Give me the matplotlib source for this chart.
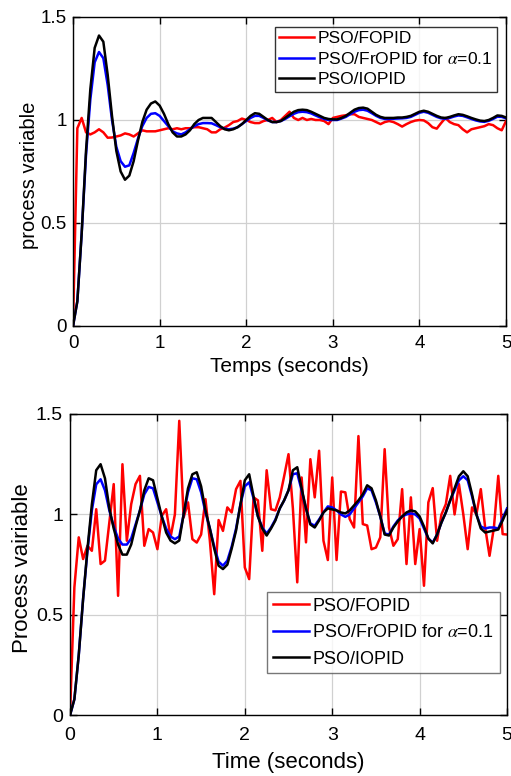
import numpy as np
import matplotlib
matplotlib.use("Agg")
import matplotlib.pyplot as plt

plt.rcParams['font.family'] = ['Liberation Sans', 'DejaVu Sans']
plt.rcParams['mathtext.fontset'] = 'stix'

# ---------------- data ----------------
t = np.round(np.arange(0, 5.0001, 0.05), 2)

labels = ["PSO/FOPID", r"PSO/FrOPID for $\alpha$=0.1", "PSO/IOPID"]
colors = ["#ff0000", "#0000ff", "#000000"]

# top chart
top_fopid = [0, 0.96, 1.01, 0.94, 0.93, 0.94, 0.955, 0.94, 0.914, 0.915,
             0.92, 0.925, 0.935, 0.93, 0.92, 0.935, 0.95, 0.945, 0.945, 0.945,
             0.95, 0.955, 0.96, 0.955, 0.96, 0.955, 0.96, 0.96, 0.965, 0.965,
             0.96, 0.955, 0.94, 0.94, 0.955, 0.963, 0.975, 0.99, 0.995, 1.007,
             1.0, 0.99, 0.985, 0.985, 0.995, 1.0, 1.01, 0.99, 1.0, 1.02,
             1.04, 1.01, 1.0, 1.01, 1.0, 1.005, 1.0, 1.0, 0.995, 0.98,
             1.01, 1.015, 1.02, 1.023, 1.028, 1.028, 1.015, 1.01, 1.005, 1.0,
             0.99, 0.98, 0.99, 0.995, 0.99, 0.98, 0.968, 0.98, 0.99, 0.997,
             1.0, 0.998, 0.985, 0.965, 0.958, 0.985, 1.01, 0.99, 0.98, 0.975,
             0.955, 0.94, 0.955, 0.96, 0.965, 0.97, 0.98, 0.975, 0.96, 0.95,
             0.995]
top_fropid = [0, 0.12, 0.45, 0.83, 1.1, 1.28, 1.33, 1.30, 1.17, 1.0,
              0.87, 0.8, 0.773, 0.78, 0.84, 0.91, 0.97, 1.01, 1.03, 1.033,
              1.02, 0.995, 0.97, 0.945, 0.935, 0.93, 0.94, 0.955, 0.97, 0.98,
              0.985, 0.985, 0.984, 0.975, 0.965, 0.958, 0.955, 0.958, 0.965, 0.98,
              0.995, 1.01, 1.02, 1.02, 1.01, 0.998, 0.99, 0.99, 0.995, 1.005,
              1.018, 1.03, 1.038, 1.04, 1.038, 1.032, 1.022, 1.013, 1.005, 1.0,
              1.0, 1.0, 1.007, 1.015, 1.028, 1.04, 1.048, 1.05, 1.045, 1.033,
              1.02, 1.01, 1.005, 1.005, 1.006, 1.007, 1.008, 1.01, 1.015, 1.025,
              1.035, 1.04, 1.035, 1.025, 1.015, 1.008, 1.006, 1.01, 1.017, 1.022,
              1.02, 1.013, 1.005, 0.998, 0.993, 0.991, 0.996, 1.005, 1.016, 1.015,
              1.008]
top_iopid = [0, 0.12, 0.45, 0.85, 1.15, 1.35, 1.41, 1.38, 1.22, 1.02,
             0.85, 0.75, 0.71, 0.73, 0.80, 0.90, 0.99, 1.05, 1.08, 1.09,
             1.07, 1.03, 0.98, 0.94, 0.92, 0.92, 0.93, 0.95, 0.98, 1.0,
             1.01, 1.01, 1.01, 0.99, 0.97, 0.955, 0.95, 0.955, 0.965, 0.98,
             1.0, 1.02, 1.033, 1.03, 1.015, 1.0, 0.99, 0.99, 0.995, 1.01,
             1.025, 1.04, 1.048, 1.05, 1.048, 1.04, 1.03, 1.02, 1.01, 1.005,
             1.003, 1.003, 1.01, 1.02, 1.035, 1.05, 1.058, 1.06, 1.055, 1.04,
             1.025, 1.015, 1.01, 1.01, 1.01, 1.012, 1.012, 1.015, 1.02, 1.03,
             1.04, 1.045, 1.04, 1.03, 1.02, 1.012, 1.01, 1.015, 1.022, 1.028,
             1.025, 1.018, 1.01, 1.003, 0.997, 0.995, 1.0, 1.01, 1.022, 1.02,
             1.012]

# bottom chart
bot_fopid = [0, 0.637, 0.886, 0.778, 0.844, 0.819, 1.026, 0.753, 0.77, 0.96,
             1.151, 0.595, 1.25, 0.869, 1.051, 1.151, 1.192, 0.844, 0.927, 0.91,
             0.827, 0.993, 1.026, 0.886, 1.0, 1.466, 0.985, 1.06, 0.877, 0.86,
             0.9, 1.076, 0.87, 0.603, 0.972, 0.918, 1.035, 1.01, 1.126, 1.167,
             0.736, 0.678, 1.085, 1.07, 0.819, 1.22, 1.026, 1.02, 1.085, 1.19,
             1.30, 1.03, 0.662, 1.184, 0.861, 1.275, 1.085, 1.317, 0.869, 0.773,
             1.184, 0.773, 1.114, 1.11, 0.977, 0.935, 1.39, 0.952, 0.945, 0.827,
             0.835, 0.886, 1.325, 0.935, 0.844, 0.877, 1.126, 0.753, 1.085, 0.753,
             0.927, 0.645, 1.06, 1.131, 0.869, 1.0, 1.051, 1.192, 1.0, 1.151,
             1.0, 0.827, 1.035, 1.0, 1.126, 0.935, 0.794, 0.935, 1.192, 0.902,
             0.90]
bot_fropid = [0, 0.08, 0.30, 0.58, 0.82, 1.02, 1.15, 1.175, 1.12, 1.02,
              0.94, 0.88, 0.85, 0.85, 0.88, 0.95, 1.02, 1.10, 1.137, 1.13,
              1.06, 0.99, 0.93, 0.89, 0.877, 0.89, 1.0, 1.11, 1.18, 1.175,
              1.11, 1.01, 0.93, 0.84, 0.765, 0.745, 0.77, 0.84, 0.93, 1.05,
              1.14, 1.16, 1.08, 0.99, 0.935, 0.905, 0.935, 0.975, 1.03, 1.07,
              1.12, 1.20, 1.205, 1.12, 1.03, 0.955, 0.944, 0.975, 1.01, 1.04,
              1.035, 1.02, 1.0, 0.988, 1.0, 1.03, 1.06, 1.09, 1.13, 1.12,
              1.06, 0.99, 0.905, 0.9, 0.94, 0.97, 0.99, 1.0, 1.005, 1.0,
              0.98, 0.93, 0.88, 0.86, 0.9, 0.96, 1.01, 1.07, 1.12, 1.17,
              1.19, 1.17, 1.09, 1.0, 0.94, 0.93, 0.935, 0.935, 0.93, 0.98,
              1.03]
bot_iopid = [0, 0.08, 0.30, 0.58, 0.83, 1.05, 1.22, 1.25, 1.18, 1.03,
             0.93, 0.85, 0.80, 0.80, 0.85, 0.94, 1.02, 1.12, 1.18, 1.17,
             1.08, 0.99, 0.91, 0.87, 0.856, 0.87, 1.0, 1.13, 1.20, 1.21,
             1.14, 1.02, 0.93, 0.83, 0.745, 0.728, 0.75, 0.83, 0.92, 1.05,
             1.17, 1.20, 1.09, 0.99, 0.93, 0.895, 0.93, 0.97, 1.03, 1.07,
             1.12, 1.22, 1.235, 1.13, 1.03, 0.95, 0.935, 0.97, 1.01, 1.03,
             1.025, 1.02, 1.01, 1.005, 1.02, 1.045, 1.07, 1.10, 1.145, 1.13,
             1.07, 0.99, 0.90, 0.895, 0.935, 0.965, 0.99, 1.01, 1.02, 1.015,
             0.99, 0.94, 0.88, 0.856, 0.90, 0.96, 1.01, 1.07, 1.13, 1.19,
             1.215, 1.19, 1.10, 1.0, 0.93, 0.91, 0.915, 0.92, 0.925, 0.97,
             1.02]

x_ticks = [0, 1, 2, 3, 4, 5]
y_ticks = [0, 0.5, 1, 1.5]
y_ticklabels = ["0", "0.5", "1", "1.5"]

# ---------------- figure ----------------
fig = plt.figure(figsize=(5.11, 7.76), dpi=100)
ax1 = fig.add_axes([0.1429, 0.5799, 0.8474, 0.3982])
ax2 = fig.add_axes([0.1370, 0.0782, 0.8552, 0.3883])


def style(ax, tick_fs, xpad, ypad):
    ax.set_xlim(0, 5)
    ax.set_ylim(0, 1.5)
    ax.set_xticks(x_ticks)
    ax.set_yticks(y_ticks)
    ax.set_xticklabels([str(v) for v in x_ticks])
    ax.set_yticklabels(y_ticklabels)
    ax.grid(True, color="#d0d0d0", linewidth=0.9)
    ax.set_axisbelow(True)
    ax.tick_params(direction="in", top=True, right=True, length=5,
                   width=1.0, labelsize=tick_fs)
    ax.tick_params(axis="x", pad=xpad)
    ax.tick_params(axis="y", pad=ypad)
    for s in ax.spines.values():
        s.set_linewidth(1.0)
        s.set_color("black")


for ax, ys in ((ax1, (top_fopid, top_fropid, top_iopid)),
               (ax2, (bot_fopid, bot_fropid, bot_iopid))):
    for y, c, lab in zip(ys, colors, labels):
        ax.plot(t, y, color=c, linewidth=1.8, label=lab)

style(ax1, 13.5, 6.5, 4.5)
style(ax2, 14, 8.5, 5)

ax1.set_xlabel("Temps (seconds)", fontsize=15)
ax1.set_ylabel("process variable", fontsize=14.5)
ax1.xaxis.set_label_coords(0.5, -0.100)
ax1.yaxis.set_label_coords(-0.078, 0.489)

ax2.set_xlabel("Time (seconds)", fontsize=16)
ax2.set_ylabel("Process vairiable", fontsize=16)
ax2.xaxis.set_label_coords(0.5, -0.122)
ax2.yaxis.set_label_coords(-0.085, 0.49)

leg1 = ax1.legend(loc="upper right", bbox_to_anchor=(0.979, 0.968), fontsize=12.5,
                  frameon=True, fancybox=False, handlelength=2.0,
                  handletextpad=0.2, borderpad=0.25, labelspacing=0.28,
                  borderaxespad=0)
leg1.get_frame().set_edgecolor("black")
leg1.get_frame().set_linewidth(1.0)

leg2 = ax2.legend(loc="upper right", bbox_to_anchor=(0.984, 0.41), fontsize=13,
                  frameon=True, fancybox=False, handlelength=2.0,
                  handletextpad=0.2, borderpad=0.33, labelspacing=0.52,
                  borderaxespad=0)
leg2.get_frame().set_edgecolor("#555555")
leg2.get_frame().set_linewidth(1.0)

fig.savefig("out.png", dpi=100)
